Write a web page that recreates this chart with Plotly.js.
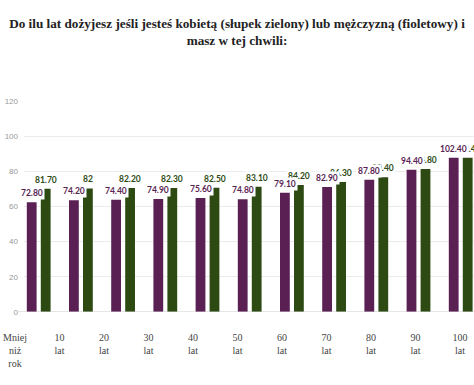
<!DOCTYPE html>
<html><head><meta charset="utf-8">
<script src="https://cdn.plot.ly/plotly-3.0.1.min.js"></script>
<style>html,body{margin:0;padding:0;background:#fff;overflow:hidden;}#chart{width:474px;height:385px;}</style>
</head><body><div id="chart"></div>
<script>
// Data
const categories = ['Mniej<br>niż<br>rok','10<br>lat','20<br>lat','30<br>lat','40<br>lat','50<br>lat','60<br>lat','70<br>lat','80<br>lat','90<br>lat','100<br>lat'];
const men   = [72.8, 74.2, 74.4, 74.9, 75.6, 74.8, 79.1, 82.9, 87.8, 94.4, 102.4];
const women = [81.7, 82.0, 82.2, 82.3, 82.5, 83.1, 84.2, 86.3, 89.4, 94.8, 102.4];
const yTickLabels = ['0','20','40','60','80','100','120'];

const purple = '#5a1f53';
const green = '#2d4a13';
const idx = categories.map((c,i)=>i);
const fmt = v => Number.isInteger(v) ? String(v) : v.toFixed(2);

const traces = [
  {type:'bar', x:idx, y:men, marker:{color:purple}, hoverinfo:'skip', showlegend:false},
  {type:'bar', x:idx, y:women, marker:{color:green}, hoverinfo:'skip', showlegend:false},
  {type:'scatter', mode:'markers', x:[0], y:[0], xaxis:'x2', yaxis:'y2', marker:{opacity:0}, hoverinfo:'skip', showlegend:false}
];

const bargap = 0.337;
const shift = 7;
const labelFont = {family:'Lato, "Open Sans", sans-serif', size:8.5, weight:700};
const ann = [];
women.forEach((v,i)=>ann.push({x:i, y:v, xref:'x', yref:'y', text:fmt(v), showarrow:false, xanchor:'center', yanchor:'bottom', xshift:shift, yshift:2, bgcolor:'#ffffff', borderpad:1, font:Object.assign({color:green}, labelFont)}));
men.forEach((v,i)=>ann.push({x:i, y:v, xref:'x', yref:'y', text:fmt(v), showarrow:false, xanchor:'center', yanchor:'bottom', xshift:-shift, yshift:2, bgcolor:'#ffffff', borderpad:1, font:Object.assign({color:purple}, labelFont)}));

const W = 474, H = 385;
const plotLeft = 24;
const yMax = 140;
const layout = {
  width:W, height:H,
  margin:{l:0, r:0, t:101, b:73},
  paper_bgcolor:'#ffffff', plot_bgcolor:'rgba(0,0,0,0)',
  title:{text:'Do ilu lat dożyjesz jeśli jesteś kobietą (słupek zielony) lub mężczyzną (fioletowy) i<br>masz w tej chwili:',
         font:{family:'"Liberation Serif", serif', size:13.2, color:'#222', weight:700},
         x:237/W, xanchor:'center', y:1-28/H, yanchor:'top', yref:'container'},
  barmode:'group', bargap:bargap, bargroupgap:0.3,
  xaxis:{domain:[plotLeft/W,1], range:[(plotLeft-38.7)/42.2,(W-38.7)/42.2], showticklabels:false, showgrid:false, zeroline:false, showline:false, ticks:'', fixedrange:true},
  yaxis:{range:[0,yMax], tickvals:yTickLabels.map((t,i)=>i*yMax/(yTickLabels.length-1)), ticktext:yTickLabels,
         showgrid:true, gridcolor:'#ebebeb', gridwidth:1, zeroline:false, showline:false, ticks:'',
         tickfont:{family:'Arial, "Liberation Sans", sans-serif', size:8, color:'#999'}, ticklabelstandoff:5, fixedrange:true},
  xaxis2:{domain:[0,1], anchor:'y2', range:[-15/44.5,(W-15)/44.5], tickvals:idx, ticktext:categories, showgrid:false, zeroline:false, showline:false, ticks:'',
          tickfont:{family:'"Liberation Serif", serif', size:10, color:'#444'}, ticklabelstandoff:18, fixedrange:true},
  yaxis2:{domain:[0,1], anchor:'x2', range:[0,yMax], visible:false, showgrid:false, zeroline:false, fixedrange:true},
  shapes:[{type:'line', xref:'paper', yref:'y', x0:18/W, x1:1, y0:0, y1:0, line:{color:'#cccccc', width:1}}],
  annotations:ann
};
Plotly.newPlot('chart', traces, layout, {displayModeBar:false, staticPlot:true});
</script></body></html>
